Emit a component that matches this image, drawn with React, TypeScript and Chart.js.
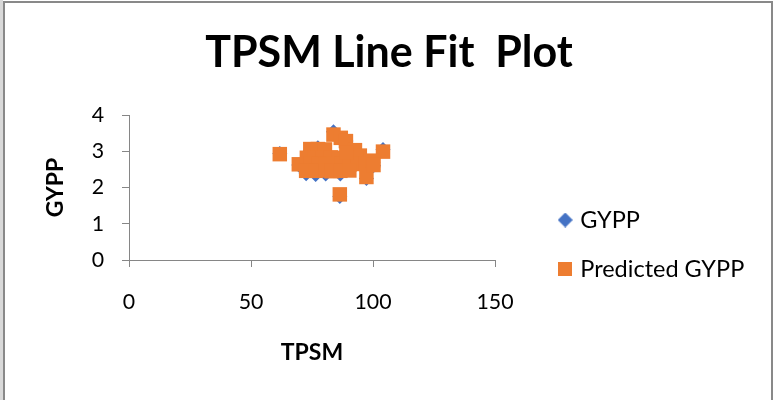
import React, { useEffect, useRef } from 'react';
import { Chart, registerables } from 'chart.js';

Chart.register(...registerables);

const chartTitle = 'TPSM Line Fit  Plot';
const xTitle = 'TPSM';
const yTitle = 'GYPP';
const seriesNames = ['GYPP', 'Predicted GYPP'];
const seriesColors = ['#4472C4', '#ED7D31'];

const xTicks = [0, 50, 100, 150];
const yTicks = [0, 1, 2, 3, 4];

const tpsm = [
  61.8, 83.8, 86.8, 88.9, 104.1, 86.4, 97.3, 69.6,
  74.3, 77.4, 80.3, 92.6, 94.6,
  72.9, 76.2, 79.5, 82.7, 86.1, 89.7, 93.0,
  74.5, 77.6, 80.7, 84.0, 87.2, 90.5, 93.8, 97.1,
  100.0, 100.2,
  72.6, 76.5, 80.6, 83.0, 86.6, 90.3,
  89.1,
];

const gypp = [
  2.94, 3.54, 3.33, 3.28, 3.05, 1.75, 2.25, 2.62,
  3.02, 3.10, 3.00, 2.98, 2.85,
  2.70, 2.75, 2.90, 2.68, 2.80, 2.72, 2.76,
  2.55, 2.60, 2.70, 2.58, 2.62, 2.70, 2.66, 2.60,
  2.70, 2.60,
  2.38, 2.36, 2.37, 2.50, 2.37, 2.52,
  2.95,
];

const predictedGypp = [
  2.92, 3.46, 3.37, 3.28, 2.99, 1.81, 2.29, 2.64,
  3.06, 3.06, 3.05, 3.03, 2.88,
  2.82, 2.81, 2.82, 2.83, 2.82, 2.81, 2.82,
  2.65, 2.66, 2.64, 2.65, 2.66, 2.64, 2.65, 2.65,
  2.74, 2.62,
  2.46, 2.46, 2.47, 2.45, 2.46, 2.47,
  2.97,
];

const FONT = 'Lato';
const AXIS_GRAY = '#868686';

function makeIcon(kind: 'diamond' | 'square', color: string): HTMLCanvasElement {
  const c = document.createElement('canvas');
  const s = kind === 'diamond' ? 15 : 14;
  c.width = s;
  c.height = s;
  const ctx = c.getContext('2d')!;
  ctx.fillStyle = color;
  if (kind === 'diamond') {
    ctx.beginPath();
    ctx.moveTo(s / 2, 0);
    ctx.lineTo(s, s / 2);
    ctx.lineTo(s / 2, s);
    ctx.lineTo(0, s / 2);
    ctx.closePath();
    ctx.fill();
  } else {
    ctx.fillRect(0, 0, s, s);
  }
  return c;
}

export default function App() {
  const canvasRef = useRef<HTMLCanvasElement | null>(null);

  useEffect(() => {
    if (!canvasRef.current) return;
    const icons = [makeIcon('diamond', seriesColors[0]), makeIcon('square', seriesColors[1])];

    const chart = new Chart(canvasRef.current, {
      type: 'scatter',
      data: {
        datasets: [
          {
            label: seriesNames[0],
            data: tpsm.map((x, i) => ({ x, y: gypp[i] })),
            pointStyle: 'rectRot',
            pointRadius: 7.5,
            pointHoverRadius: 7.5,
            backgroundColor: seriesColors[0],
            borderWidth: 0,
            order: 1,
          },
          {
            label: seriesNames[1],
            data: tpsm.map((x, i) => ({ x, y: predictedGypp[i] })),
            pointStyle: 'rect',
            pointRadius: 10.25,
            pointHoverRadius: 10.25,
            backgroundColor: seriesColors[1],
            borderWidth: 0,
            order: 0,
          },
        ],
      },
      options: {
        animation: false,
        responsive: false,
        events: [],
        layout: { padding: { left: 4, right: 0, top: 0, bottom: 0 } },
        plugins: {
          title: {
            display: true,
            text: chartTitle,
            color: '#000',
            font: { family: FONT, size: 43, weight: 'bold', lineHeight: 1.2 },
            padding: { top: 27, bottom: 36.4 },
          },
          legend: {
            position: 'right',
            align: 'center',
            maxWidth: 320,
            title: { display: true, text: '', padding: 0, font: { family: FONT, size: 12, lineHeight: '89px' } },
            labels: {
              usePointStyle: true,
              boxWidth: 6.5,
              padding: 25.5,
              color: '#000',
              font: { family: FONT, size: 23.5 },
              sort: (a: any, b: any) => a.datasetIndex - b.datasetIndex,
              generateLabels: (c: any) => {
                const items = (Chart.defaults.plugins.legend.labels as any).generateLabels(c);
                items.forEach((it: any) => {
                  it.pointStyle = icons[it.datasetIndex];
                });
                return items;
              },
            },
          },
          tooltip: { enabled: false },
        },
        scales: {
          x: {
            type: 'linear',
            position: 'bottom',
            min: xTicks[0],
            max: xTicks[xTicks.length - 1],
            ticks: {
              stepSize: xTicks[1] - xTicks[0],
              color: '#000',
              padding: 22.7,
              font: { family: FONT, size: 21.3 },
            },
            grid: { drawOnChartArea: false, drawTicks: true, tickLength: 7, color: AXIS_GRAY },
            border: { display: true, color: AXIS_GRAY },
            title: {
              display: true,
              text: xTitle,
              color: '#000',
              font: { family: FONT, size: 23, weight: 'bold' },
              padding: { top: 0, bottom: 33.2 },
            },
            afterFit: (s: any) => {
              s.height = 140;
              s.paddingRight = 279;
            },
          },
          y: {
            type: 'linear',
            position: 'left',
            min: yTicks[0],
            max: yTicks[yTicks.length - 1],
            ticks: {
              stepSize: yTicks[1] - yTicks[0],
              color: '#000',
              padding: 18,
              font: { family: FONT, size: 21.3 },
            },
            grid: { drawOnChartArea: false, drawTicks: true, tickLength: 7, color: AXIS_GRAY },
            border: { display: true, color: AXIS_GRAY },
            title: {
              display: true,
              text: yTitle,
              color: '#000',
              font: { family: FONT, size: 23, weight: 'bold' },
              padding: { top: 37.7, bottom: 0 },
            },
            afterFit: (s: any) => {
              s.width = 125;
            },
          },
          gap: {
            type: 'linear',
            position: 'right',
            display: true,
            grid: { display: false, drawTicks: false },
            border: { display: false },
            ticks: { display: false },
            afterFit: (s: any) => {
              s.width = 41.5;
            },
          },
        },
      } as any,
    });
    return () => chart.destroy();
  }, []);

  return (
    <div
      style={{
        position: 'fixed',
        left: 0,
        top: 0,
        width: 774,
        height: 400,
        overflow: 'hidden',
        background: '#fff',
      }}
    >
      <div style={{ position: 'absolute', left: 0, top: 0, width: 3, height: 400, background: '#d9d9d9' }} />
      <div
        style={{
          position: 'absolute',
          left: 3,
          top: 1,
          width: 770,
          height: 420,
          boxSizing: 'border-box',
          border: '2px solid #898989',
        }}
      />
      <canvas ref={canvasRef} width={774} height={400} style={{ position: 'absolute', left: 0, top: 0, width: 774, height: 400 }} />
    </div>
  );
}
